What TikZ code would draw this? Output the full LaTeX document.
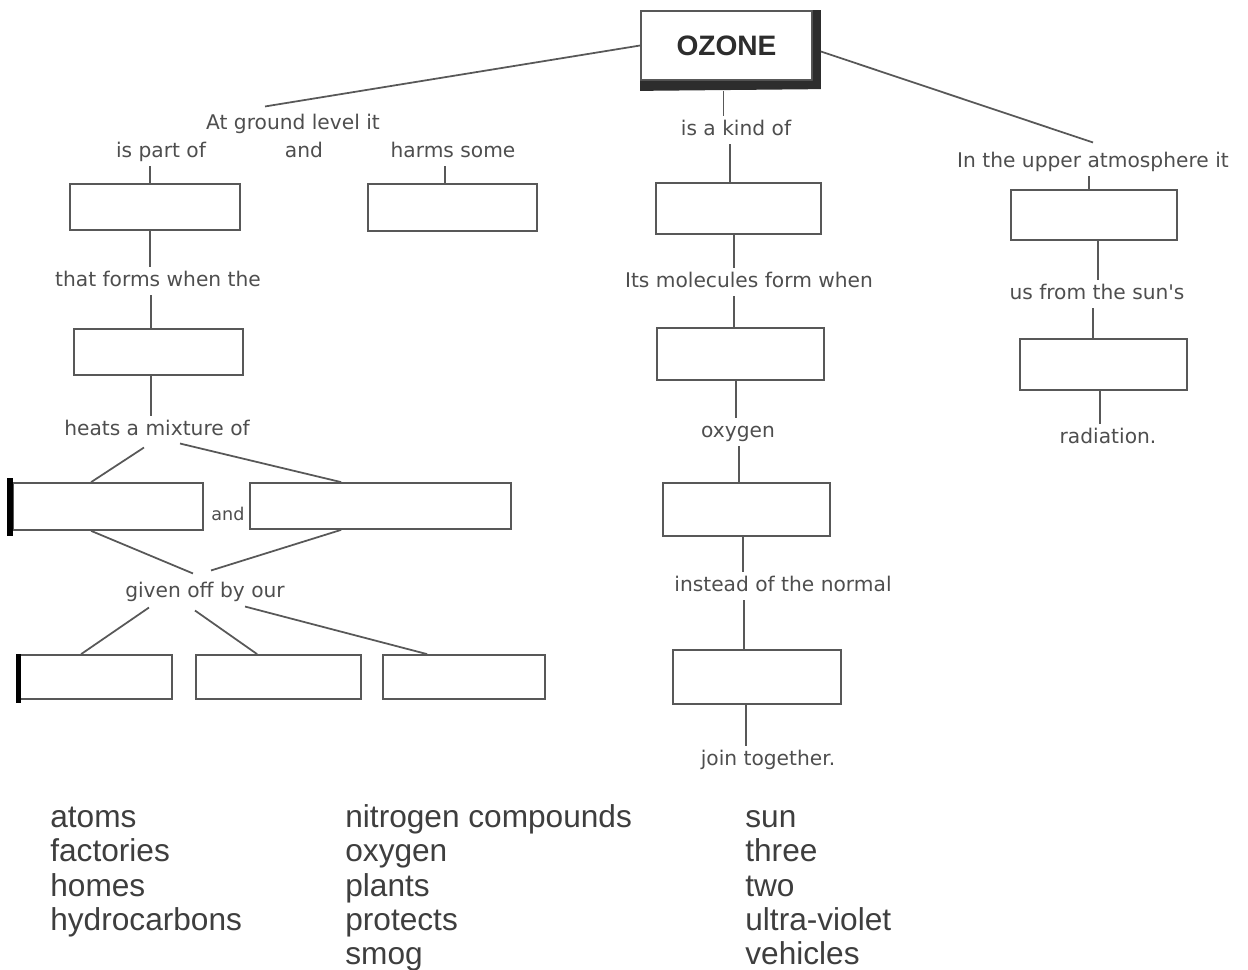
\documentclass[tikz,border=0pt]{standalone}
\usepackage{fontspec}
\usetikzlibrary{calc,fit}
\newfontfamily\labfont{DejaVu Sans}
\newfontfamily\arialfont{Liberation Sans}
\definecolor{linec}{RGB}{88,88,88}
\definecolor{labc}{RGB}{78,78,78}
\definecolor{listc}{RGB}{62,62,62}
\definecolor{shadc}{RGB}{45,45,45}
\newcommand\vconn[3]{\coordinate (tmpc) at ($(#1)+(#3,0)$);\draw[conn] (tmpc) -- (tmpc |- #2);}
\tikzset{
  box/.style={draw=linec, line width=1pt, inner sep=0pt, fill=white},
  conn/.style={draw=linec, line width=1pt},
  lab/.style={font=\labfont\fontsize{11.5}{13}\selectfont, text=labc, inner xsep=0pt, inner ysep=1.5pt, text height=9pt, text depth=3pt},
  smalllab/.style={lab, font=\labfont\fontsize{10}{12}\selectfont},
  listtxt/.style={font=\arialfont\fontsize{18}{20}\selectfont, text=listc, inner sep=0pt, anchor=base west},
  blackbar/.style={draw=black, line width=3pt}
}
\begin{document}
\begin{tikzpicture}[x=0.02cm, y=-0.02cm]
\useasboundingbox (0,0) rectangle (1248,970);

% OZONE box
\node[box, fit={(641,11) (812,80)}] (oz) {};
\fill[shadc] (oz.north east) -- ++(8,0) -- ++(0,79) -- ($(oz.south west)+(0,10)$) -- (oz.south west) -- (oz.south east) -- cycle;
\node[font=\arialfont\bfseries\fontsize{16}{18}\selectfont, text=shadc] (ozt) at (oz.center) {OZONE};

% labels
\node[lab] (ground) at (293,124) {At ground level it};
\node[lab] (ptof) at (161,152) {is part of};
\node[lab] (and1) at (304,152) {and};
\node[lab] (harms) at (453,152) {harms some};
\node[lab] (kind) at (736,130) {is a kind of};
\node[lab] (upper) at (1093,162) {In the upper atmosphere it};
\node[lab] (forms) at (158,281) {that forms when the};
\node[lab] (molec) at (749,282) {Its molecules form when};
\node[lab] (sun) at (1097,294) {us from the sun's};
\node[lab] (heats) at (157,430) {heats a mixture of};
\node[lab] (oxy) at (738,432) {oxygen};
\node[lab] (rad) at (1108,438) {radiation.};
\node[smalllab] (and2) at (228,515) {and};
\node[lab] (given) at (205,592) {given off by our};
\node[lab] (instead) at (783,586) {instead of the normal};
\node[lab] (join) at (768,760) {join together.};

% boxes
\node[box, fit={(70,184) (240,230)}] (A) {};
\node[box, fit={(368,184) (537,231)}] (B) {};
\node[box, fit={(74,329) (243,375)}] (C) {};
\node[box, fit={(13,483) (203,530)}] (D) {};
\node[box, fit={(250,483) (511,529)}] (E) {};
\node[box, fit={(19,655) (172,699)}] (F) {};
\node[box, fit={(196,655) (361,699)}] (G) {};
\node[box, fit={(383,655) (545,699)}] (H) {};
\node[box, fit={(656,183) (821,234)}] (I) {};
\node[box, fit={(657,328) (824,380)}] (J) {};
\node[box, fit={(663,483) (830,536)}] (K) {};
\node[box, fit={(673,650) (841,704)}] (L) {};
\node[box, fit={(1011,190) (1177,240)}] (M) {};
\node[box, fit={(1020,339) (1187,390)}] (N) {};

% black bars
\draw[blackbar] ($(D.north west)+(-2,-4)$) -- ($(D.south west)+(-2,5)$);
\draw[blackbar] ($(F.north west)+(0.5,0)$) -- ($(F.south west)+(0.5,3)$);

% connectors from OZONE
\draw[conn] (oz.west) -- ($(ground.north)+(-28,-4)$);
\draw[conn] ($(oz.east)+(8,6)$) -- ($(upper.north)+(0,-6)$);
\coordinate (ozb) at ($(oz.south)+(-3,10)$);
\draw[conn] (ozb) -- (ozb |- kind.north);

% left column verticals
\vconn{A.north}{ptof.south}{-5}
\vconn{B.north}{harms.south}{-7.5}
\vconn{A.south}{forms.north}{-5}
\vconn{C.north}{forms.south}{-7.5}
\vconn{C.south}{heats.north}{-7.5}

% middle column
\vconn{I.north}{kind.south}{-8.5}
\vconn{I.south}{molec.north}{-4.5}
\vconn{J.north}{molec.south}{-6.5}
\vconn{J.south}{oxy.north}{-4.5}
\vconn{K.north}{oxy.south}{-7.5}
\vconn{K.south}{instead.north}{-3.5}
\vconn{L.north}{instead.south}{-13}
\vconn{L.south}{join.north}{-11}

% right column
\vconn{M.north}{upper.south}{-5}
\vconn{M.south}{sun.north}{4}
\vconn{N.north}{sun.south}{-10.5}
\vconn{N.south}{rad.north}{-3.5}

% slanted connectors
\draw[conn] ($(heats.south)+(-13,4)$) -- ($(D.north west)+(79,0)$);
\draw[conn] ($(heats.south)+(23,0)$) -- ($(E.north west)+(92,0)$);
\draw[conn] ($(D.south west)+(79,0)$) -- ($(given.north)+(-12,-5)$);
\draw[conn] ($(E.south west)+(92,0)$) -- ($(given.north)+(6,-8)$);
\draw[conn] ($(given.south)+(-56,2)$) -- ($(F.north west)+(63,0)$);
\draw[conn] ($(given.south)+(-10,5)$) -- ($(G.north west)+(62,0)$);
\draw[conn] ($(given.south)+(40,1)$) -- ($(H.north west)+(45,0)$);

% word lists
\node[listtxt] (w1) at (50,827) {atoms};
\node[listtxt] (w2) at (50,861) {factories};
\node[listtxt] (w3) at (50,896) {homes};
\node[listtxt] (w4) at (50,930) {hydrocarbons};
\node[listtxt] (w5) at (345,827) {nitrogen compounds};
\node[listtxt] (w6) at (345,861) {oxygen};
\node[listtxt] (w7) at (345,896) {plants};
\node[listtxt] (w8) at (345,930) {protects};
\node[listtxt] (w9) at (345,964) {smog};
\node[listtxt] (w10) at (745,827) {sun};
\node[listtxt] (w11) at (745,861) {three};
\node[listtxt] (w12) at (745,896) {two};
\node[listtxt] (w13) at (745,930) {ultra-violet};
\node[listtxt] (w14) at (745,964) {vehicles};
\end{tikzpicture}
\end{document}
